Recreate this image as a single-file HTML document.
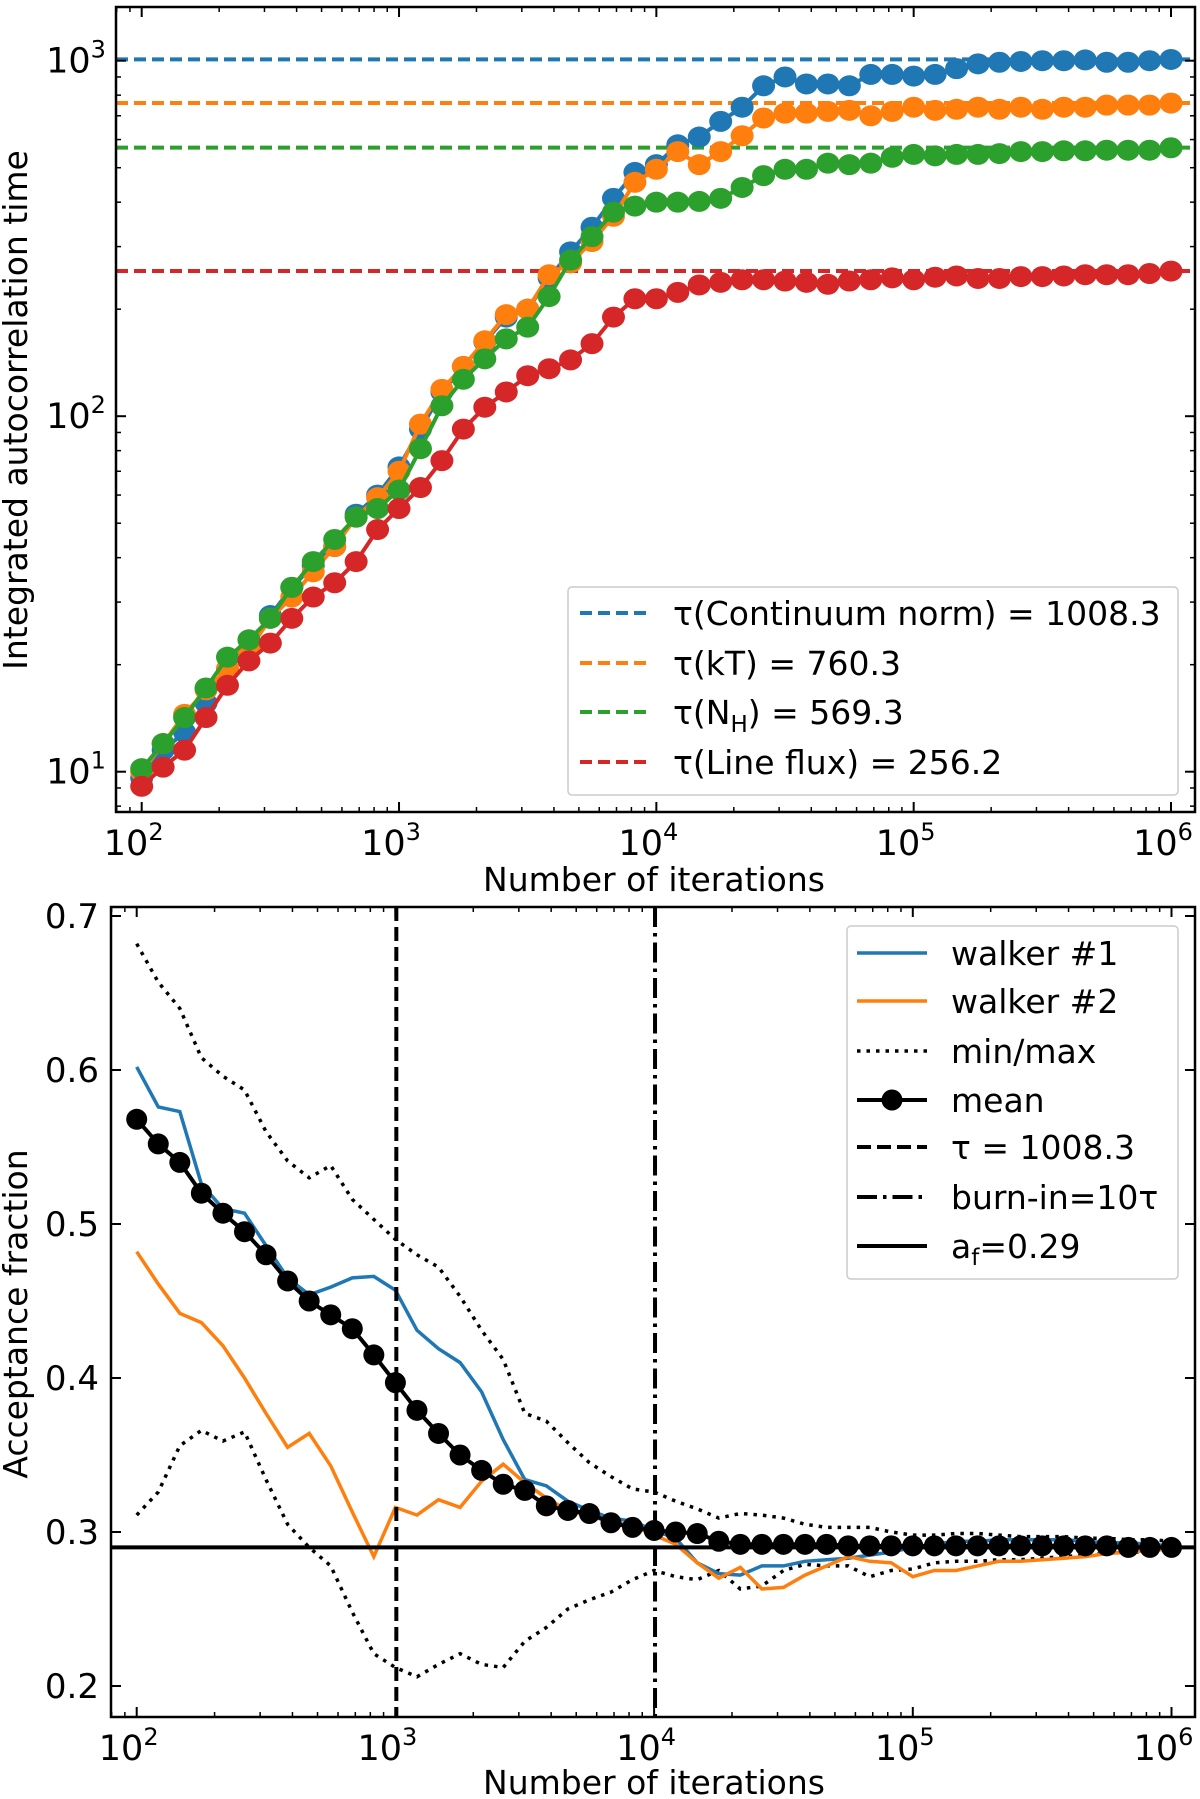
<!DOCTYPE html>
<html><head><meta charset="utf-8"><style>
html,body{margin:0;padding:0;background:#fff;}
svg{display:block;font-family:"DejaVu Sans","Liberation Sans",sans-serif;}
</style></head><body>
<svg id="fig" width="1200" height="1799" viewBox="0 0 1200 1799" xmlns="http://www.w3.org/2000/svg"></svg>
<script>
// ---------- data: top panel (autocorrelation time) ----------
const iterExp = []; for (let k = 0; k <= 48; k++) iterExp.push(2 + k / 12);
const tauBlue = [9.6,11.5,12.9,15.6,19.4,22,27.5,33,38,43,53,60,72,92,117,138,162,190,200,245,290,340,410,485,510,580,610,675,740,850,900,860,860,850,915,915,905,915,950,980,990,995,1000,1000,1005,990,990,1000,1008];
const tauOrange = [10,12,14.5,17,19.5,22,27,31,36.5,43,52,59,70,95,119,138,163,193,200,250,270,310,365,455,495,555,510,555,615,690,712,712,720,725,700,720,740,725,730,740,730,740,730,740,740,750,750,750,760];
const tauGreen = [10.2,12,14.2,17.2,21,23.5,27,33,39,45,52,55,62,81,107,127,145,165,178,217,275,320,375,390,400,400,402,410,440,475,495,495,515,510,515,535,545,540,545,545,548,555,555,558,558,560,560,560,569];
const tauRed = [9.1,10.3,11.5,14.2,17.5,20.5,23,27,31,34,39,48,55,63,75,92,106,117,130,136,144,160,190,214,214,223,234,238,242,242,240,238,235,240,242,245,242,246,248,244,244,247,247,248,250,250,250,252,256];
const tauFinal = [1008.3, 760.3, 569.3, 256.2];
const tauLabels = ["Continuum norm","kT","N_H","Line flux"];
const colors = ["#1f77b4","#ff7f0e","#2ca02c","#d62728"];
// ---------- data: bottom panel (acceptance fraction) ----------
const accWalker1 = [.602,.576,.573,.526,.510,.507,.486,.465,.454,.459,.465,.466,.457,.431,.419,.410,.391,.360,.334,.330,.320,.314,.309,.307,.301,.296,.280,.273,.272,.278,.278,.281,.282,.283,.285,.287,.290,.292,.294,.294,.295,.295,.295,.295,.294,.293,.293,.292,.291];
const accWalker2 = [.482,.461,.442,.436,.421,.400,.377,.355,.364,.343,.313,.284,.316,.311,.321,.316,.333,.344,.332,.322,.314,.310,.307,.304,.298,.292,.280,.270,.277,.263,.264,.272,.278,.284,.281,.280,.271,.275,.275,.278,.281,.281,.282,.283,.284,.286,.287,.288,.289];
const accMin = [.311,.326,.356,.366,.359,.365,.334,.305,.290,.278,.248,.221,.212,.206,.214,.221,.214,.212,.229,.238,.250,.256,.261,.269,.275,.271,.269,.275,.263,.265,.275,.279,.278,.278,.271,.275,.276,.280,.281,.281,.282,.282,.283,.284,.285,.286,.287,.287,.288];
const accMax = [.682,.657,.640,.608,.596,.587,.560,.541,.530,.538,.516,.503,.490,.480,.472,.453,.431,.412,.377,.372,.358,.345,.336,.328,.326,.320,.315,.309,.312,.311,.309,.305,.303,.303,.303,.300,.298,.298,.299,.299,.298,.297,.297,.297,.296,.296,.295,.295,.294];
const accMean = [.568,.552,.540,.520,.507,.495,.480,.463,.450,.441,.432,.415,.397,.379,.364,.350,.340,.331,.327,.317,.314,.312,.306,.303,.301,.300,.299,.294,.292,.292,.292,.292,.292,.291,.291,.291,.291,.291,.291,.291,.291,.291,.291,.291,.291,.291,.290,.290,.290];
const tauVert = 1008.3, burnIn = 10083, afLine = 0.29;
const yTicksBottom = [0.2,0.3,0.4,0.5,0.6,0.7];

const NS = "http://www.w3.org/2000/svg";
const svg = document.getElementById('fig');
function el(tag, attrs, parent) {
  const e = document.createElementNS(NS, tag);
  for (const k in attrs) e.setAttribute(k, attrs[k]);
  (parent || svg).appendChild(e); return e;
}
const T = {L:116,R:1195,T:7,B:812};
const txS = e => 141.7 + (e - 2) * (1171 - 141.7) / 4;
const tyS = v => 60.7 + (3 - Math.log10(v)) * 355.5;
const B = {L:111,R:1195,T:907,B:1717};
const bxS = e => 136.7 + (e - 2) * 258.7;
const byS = v => 1532 + (0.3 - v) * 1540;

function clip(id, A) {
  const d = el('defs', {});
  const c = el('clipPath', {id}, d);
  el('rect', {x:A.L, y:A.T, width:A.R-A.L, height:A.B-A.T}, c);
}
clip('ct', T); clip('cb', B);

function logXTicks(A, xs, g) {
  for (let d = 2; d <= 6; d++) {
    const x = xs(d);
    for (const [y1,y2] of [[A.B,A.B-10],[A.T,A.T+10]]) {
      const t = el('line', {x1:x,x2:x,y1,y2,stroke:'#000','stroke-width':2}, g);
       
    }
    const lab = el('text', {x:x-8, y:A.B+43, 'font-size':35, 'text-anchor':'middle'}, g);
     
    lab.textContent = '10';
    const sup = el('tspan', {dy:-15, 'font-size':24}, lab); sup.textContent = String(d);
    if (d < 6) for (let m = 2; m <= 9; m++) {
      const xm = xs(d + Math.log10(m));
      el('line', {x1:xm,x2:xm,y1:A.B,y2:A.B-5,stroke:'#000','stroke-width':1.5}, g);
      el('line', {x1:xm,x2:xm,y1:A.T,y2:A.T+5,stroke:'#000','stroke-width':1.5}, g);
    }
  }
  for (const m of [8,9]) {
    const xm = xs(1 + Math.log10(m));
    if (xm > A.L) { el('line', {x1:xm,x2:xm,y1:A.B,y2:A.B-5,stroke:'#000','stroke-width':1.5}, g); el('line', {x1:xm,x2:xm,y1:A.T,y2:A.T+5,stroke:'#000','stroke-width':1.5}, g); }
  }
}

// ================= TOP PANEL =================
const gt = el('g', {});  
const gtc = el('g', {'clip-path':'url(#ct)'}, gt);
tauFinal.forEach((v, i) => {
  const l = el('line', {x1:T.L,x2:T.R,y1:tyS(v),y2:tyS(v),stroke:colors[i],'stroke-width':4,'stroke-dasharray':'12 6'}, gtc);
   
});
[tauBlue, tauOrange, tauGreen, tauRed].forEach((s, i) => {
  const pts = s.map((v, k) => txS(iterExp[k]).toFixed(1) + ',' + tyS(v).toFixed(1)).join(' ');
  const pl = el('polyline', {points:pts, fill:'none', stroke:colors[i], 'stroke-width':4}, gtc);
   
  s.forEach((v, k) => {
    const c = el('ellipse', {cx:txS(iterExp[k]), cy:tyS(v), rx:11.5, ry:10.5, fill:colors[i]}, gtc);
     
  });
});
el('rect', {x:T.L,y:T.T,width:T.R-T.L,height:T.B-T.T,fill:'none',stroke:'#000','stroke-width':2.5}, gt);
logXTicks(T, txS, gt);
for (let d = 1; d <= 3; d++) {
  const y = tyS(Math.pow(10, d));
  el('line', {x1:T.L,x2:T.L+10,y1:y,y2:y,stroke:'#000','stroke-width':2}, gt);
  el('line', {x1:T.R,x2:T.R-10,y1:y,y2:y,stroke:'#000','stroke-width':2}, gt);
  const lab = el('text', {x:76, y:y+12, 'font-size':35, 'text-anchor':'middle'}, gt);
   
  lab.textContent = '10';
  const sup = el('tspan', {dy:-15, 'font-size':24}, lab); sup.textContent = String(d);
}
for (let d = 0; d <= 3; d++) for (let m = 2; m <= 9; m++) {
  const y = tyS(m * Math.pow(10, d));
  if (y < T.T || y > T.B) continue;
  el('line', {x1:T.L,x2:T.L+5,y1:y,y2:y,stroke:'#000','stroke-width':1.5}, gt);
  el('line', {x1:T.R,x2:T.R-5,y1:y,y2:y,stroke:'#000','stroke-width':1.5}, gt);
}
let t = el('text', {x:654, y:891, 'font-size':33, 'text-anchor':'middle'}, gt);
 
t.textContent = 'Number of iterations';
t = el('text', {x:0, y:0, 'font-size':33, 'text-anchor':'middle', transform:'translate(27,410) rotate(-90)'}, gt);
 
t.textContent = 'Integrated autocorrelation time';
const lt = el('g', {}, gt);  
el('rect', {x:568,y:587,width:610,height:208,rx:4,fill:'#fff','fill-opacity':0.8,stroke:'#ccc','stroke-width':1.5}, lt);
const legY = [613, 663, 712, 762];
tauFinal.forEach((v, i) => {
  const y = legY[i];
  const l = el('line', {x1:580,x2:646,y1:y,y2:y,stroke:colors[i],'stroke-width':4,'stroke-dasharray':'12 6'}, lt);
   
  const tx = el('text', {x:673, y:y+12, 'font-size':33}, lt);
   
  const name = tauLabels[i];
  if (name === 'N_H') {
    tx.appendChild(document.createTextNode('τ(N'));
    const s = el('tspan', {dy:8, 'font-size':23}, tx); s.textContent = 'H';
    const r = el('tspan', {dy:-8}, tx); r.textContent = ') = ' + v.toFixed(1);
  } else tx.textContent = 'τ(' + name + ') = ' + v.toFixed(1);
});

// ================= BOTTOM PANEL =================
const gb = el('g', {});  
const gbc = el('g', {'clip-path':'url(#cb)'}, gb);
function series(arr, attrs, name) {
  const pts = arr.map((v, k) => bxS(iterExp[k]).toFixed(1) + ',' + byS(v).toFixed(1)).join(' ');
  const p = el('polyline', Object.assign({points:pts, fill:'none'}, attrs), gbc);
   
}
series(accMax, {stroke:'#000','stroke-width':3.5,'stroke-dasharray':'3.5 6'}, 'max-line');
series(accMin, {stroke:'#000','stroke-width':3.5,'stroke-dasharray':'3.5 6'}, 'min-line');
series(accWalker1, {stroke:colors[0],'stroke-width':3.5}, 'walker-1-line');
series(accWalker2, {stroke:colors[1],'stroke-width':3.5}, 'walker-2-line');
let vl = el('line', {x1:bxS(Math.log10(tauVert)),x2:bxS(Math.log10(tauVert)),y1:B.T,y2:B.B,stroke:'#000','stroke-width':4,'stroke-dasharray':'14 6'}, gbc);
 
vl = el('line', {x1:bxS(Math.log10(burnIn)),x2:bxS(Math.log10(burnIn)),y1:B.T,y2:B.B,stroke:'#000','stroke-width':4,'stroke-dasharray':'20 6 3.5 6'}, gbc);
 
vl = el('line', {x1:B.L,x2:B.R,y1:byS(afLine),y2:byS(afLine),stroke:'#000','stroke-width':4}, gbc);
 
series(accMean, {stroke:'#000','stroke-width':4}, 'mean-line');
accMean.forEach((v, k) => {
  const c = el('ellipse', {cx:bxS(iterExp[k]), cy:byS(v), rx:10.5, ry:10.5, fill:'#000'}, gbc);
   
});
el('rect', {x:B.L,y:B.T,width:B.R-B.L,height:B.B-B.T,fill:'none',stroke:'#000','stroke-width':2.5}, gb);
logXTicks(B, bxS, gb);
yTicksBottom.forEach(v => {
  const y = byS(v);
  el('line', {x1:B.L,x2:B.L+10,y1:y,y2:y,stroke:'#000','stroke-width':2}, gb);
  el('line', {x1:B.R,x2:B.R-10,y1:y,y2:y,stroke:'#000','stroke-width':2}, gb);
  const lab = el('text', {x:99, y:y+12, 'font-size':34, 'text-anchor':'end'}, gb);
   
  lab.textContent = v.toFixed(1);
});
t = el('text', {x:654, y:1794, 'font-size':33, 'text-anchor':'middle'}, gb);
 
t.textContent = 'Number of iterations';
t = el('text', {x:0, y:0, 'font-size':33, 'text-anchor':'middle', transform:'translate(27,1314) rotate(-90)'}, gb);
 
t.textContent = 'Acceptance fraction';
const lb = el('g', {}, gb);  
el('rect', {x:847,y:926,width:331,height:353,rx:4,fill:'#fff','fill-opacity':0.8,stroke:'#ccc','stroke-width':1.5}, lb);
const bLeg = [
  ['walker #1', {stroke:colors[0],'stroke-width':3.5}],
  ['walker #2', {stroke:colors[1],'stroke-width':3.5}],
  ['min/max', {stroke:'#000','stroke-width':3.5,'stroke-dasharray':'3.5 6'}],
  ['mean', {stroke:'#000','stroke-width':4}],
  ['τ = 1008.3', {stroke:'#000','stroke-width':4,'stroke-dasharray':'14 6'}],
  ['burn-in=10τ', {stroke:'#000','stroke-width':4,'stroke-dasharray':'20 6 3.5 6'}],
  ['af', {stroke:'#000','stroke-width':4}]
];
const bLegY = [953, 1001, 1051, 1100, 1147, 1197, 1246];
bLeg.forEach((e, i) => {
  const y = bLegY[i];
  const l = el('line', Object.assign({x1:857,x2:927,y1:y,y2:y}, e[1]), lb);
   
  if (e[0] === 'mean') { const c = el('circle', {cx:892, cy:y, r:10.5, fill:'#000'}, lb);   }
  const tx = el('text', {x:951, y:y+12, 'font-size':33}, lb);
   
  if (e[0] === 'af') {
    tx.appendChild(document.createTextNode('a'));
    const s = el('tspan', {dy:7, 'font-size':23}, tx); s.textContent = 'f';
    const r = el('tspan', {dy:-7}, tx); r.textContent = '=0.29';
  } else tx.textContent = e[0];
});
</script>
</body></html>
